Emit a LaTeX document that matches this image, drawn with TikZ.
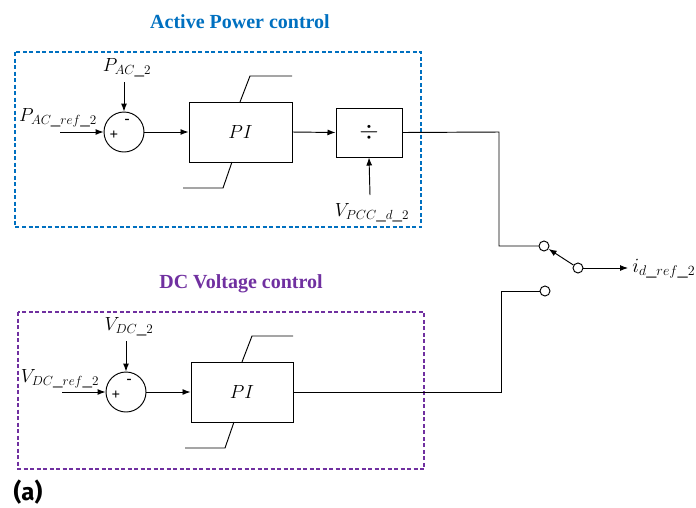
\documentclass[tikz,border=0pt]{standalone}
\usepackage{graphicx}
\usepackage{fontspec}
\setmainfont{Liberation Serif}
\newfontfamily\labfont{Fira Sans}
\usetikzlibrary{arrows.meta}
\definecolor{apblue}{HTML}{0070C0}
\definecolor{dcpurple}{HTML}{7030A0}
\newcommand\mylbl[1]{\scalebox{1.1}{$#1$}}
\begin{document}
\begin{tikzpicture}[x=1pt,y=-1pt,
  line width=0.95pt,
  sumnode/.style={draw,circle,minimum size=40pt,inner sep=0pt},
  blk/.style={draw,rectangle,inner sep=0pt,line width=1pt},
  contact/.style={draw,circle,minimum size=10pt,inner sep=0pt,fill=white},
  sig/.style={-{Latex[length=8pt,width=6pt]}},
  lab/.style={font=\fontsize{17.28}{20}\selectfont,inner sep=0pt},
  sgn/.style={font=\fontsize{15}{17}\selectfont\bfseries,inner sep=0pt},
  frame/.style={dashed,dash pattern=on 4pt off 2.5pt,line width=1.3pt},
  title/.style={font=\fontsize{20}{22}\selectfont\bfseries,inner sep=0pt}]
\useasboundingbox (0,0) rectangle (696,507);
% ---------- Active power control ----------
\node[title,text=apblue] (t1) at (240,22) {Active Power control};
\draw[frame,apblue] (15,52) rectangle (421,227);
\node[sumnode] (s1) at (124,132) {};
\node[sgn] (p1) at (114,135) {+};
\node[sgn] (m1) at (127,121) {-};
\node[blk,minimum width=103pt,minimum height=60pt,font=\fontsize{17.28}{20}\selectfont] (pi1) at (240.5,132) {\mylbl{PI}};
\node[blk,minimum width=66pt,minimum height=49pt,font=\fontsize{24.88}{28}\selectfont] (div) at (369,132.5) {$\div$};
\coordinate (pacin) at (124,82);
\node[lab] (pac) at (127,68) {\mylbl{P_{AC\_2}}};
\coordinate (prefin) at (60,132);
\node[lab] (pref) at (58,118) {\mylbl{P_{AC\_ref\_2}}};
\draw[sig] (pacin) -- (s1.north);
\draw[sig] (prefin) -- (s1.west);
\draw[sig] (s1.east) -- (pi1.west);
\draw[sig] (pi1.east) -- (div.west);
\draw (240,102) -- (250,76) -- (292,76);
\draw (232,162) -- (223,188) -- (183,188);
\coordinate (vpccin) at (370,195);
\node[lab] (vpcc) at (372,213) {\mylbl{V_{PCC\_d\_2}}};
\draw[sig] (vpccin) -- (div.south);
% ---------- Switch ----------
\node[contact] (c1) at (544,246) {};
\node[contact] (c2) at (578,268) {};
\node[contact] (c3) at (545,291) {};
\coordinate (k1) at (499,132);
\draw (div.east) -- (k1) |- (c1.west);
\draw[sig] (c2) -- (c1);
\coordinate (outc) at (628,268);
\draw[sig] (c2) -- (outc);
\node[lab,anchor=west] (idref) at (632,269) {\scalebox{1.17}{$i_{d\_ref\_2}$}};
% ---------- DC voltage control ----------
\node[title,text=dcpurple] (t2) at (241,284) {DC Voltage control};
\draw[frame,dcpurple] (18,312) rectangle (424,469);
\node[sumnode] (s2) at (126,392) {};
\node[sgn] (p2) at (116,395) {+};
\node[sgn] (m2) at (129,381) {-};
\node[blk,minimum width=102pt,minimum height=60pt,font=\fontsize{17.28}{20}\selectfont] (pi2) at (242,392) {\mylbl{PI}};
\coordinate (vdcin) at (126,341);
\node[lab] (vdc) at (129,327) {\mylbl{V_{DC\_2}}};
\coordinate (vrefin) at (62,392);
\node[lab] (vref) at (60,379) {\mylbl{V_{DC\_ref\_2}}};
\draw[sig] (vdcin) -- (s2.north);
\draw[sig] (vrefin) -- (s2.west);
\draw[sig] (s2.east) -- (pi2.west);
\draw (242,362) -- (252,336) -- (293,336);
\draw (234,422) -- (225,448) -- (185,448);
\coordinate (k2) at (501,291);
\draw (pi2.east) -| (k2) -- (c3.west);
% ---------- caption ----------
\node[font=\labfont\bfseries\fontsize{24}{26}\selectfont,inner sep=0pt] (cap) at (28,492) {(a)};
\end{tikzpicture}
\end{document}
